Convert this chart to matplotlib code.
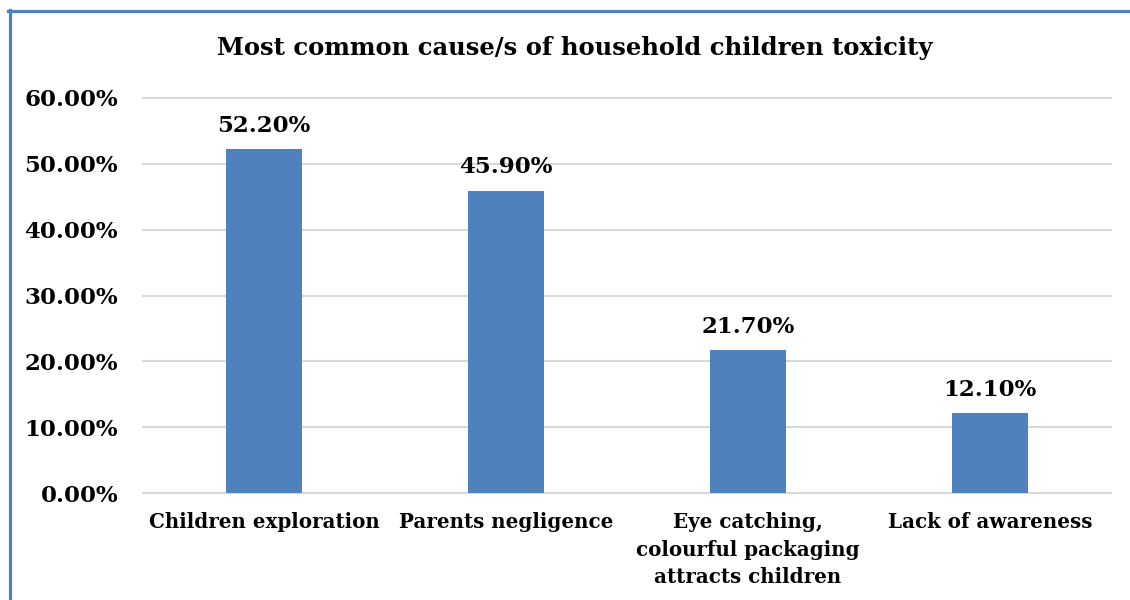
import matplotlib.pyplot as plt
from matplotlib.lines import Line2D
from matplotlib.ticker import FuncFormatter

categories = ['Children exploration', 'Parents negligence',
              'Eye catching,\ncolourful packaging\nattracts children', 'Lack of awareness']
values = [52.2, 45.9, 21.7, 12.1]
yticks = [0, 10, 20, 30, 40, 50, 60]

plt.rcParams['font.family'] = ['DejaVu Serif']
plt.rcParams['font.weight'] = 'bold'

W, H = 1130, 600
fig = plt.figure(figsize=[11.3, 6], dpi=100)
ax = fig.add_axes([143 / W, 1 - 493 / H, (1111 - 143) / W, (493 - 98) / H])

x = range(len(categories))
bars = ax.bar(x, values, width=0.31, color='#4F81BD', zorder=3)
for b, v in zip(bars, values):
    ax.text(b.get_x() + b.get_width() / 2, v + 1.9, f'{v:.2f}%', ha='center', va='bottom',
            fontsize=16.5, fontweight='bold')

ax.set_xlim(-0.5, 3.5)
ax.set_ylim(0, 60)
ax.set_yticks(yticks)
ax.yaxis.set_major_formatter(FuncFormatter(lambda v, p: f'{v:.2f}%'))
ax.set_xticks(list(x))
ax.set_xticklabels(categories, fontsize=14.3, fontweight='bold', linespacing=1.45)
for lab in ax.get_yticklabels():
    lab.set_fontsize(16.5)
    lab.set_fontweight('bold')
ax.grid(axis='y', color='#D9D9D9', linewidth=1.5, zorder=0)
for gl in ax.get_ygridlines():
    gl.set_clip_on(False)
ax.tick_params(axis='y', length=0, pad=18)
ax.tick_params(axis='x', length=0, pad=14)
for s in ax.spines.values():
    s.set_visible(False)

fig.text(575 / W, 1 - 48 / H, 'Most common cause/s of household children toxicity',
         ha='center', va='center', fontsize=17.5, fontweight='bold')

# blue frame (left and top)
fig.add_artist(Line2D([9.5 / W, 9.5 / W], [0, 1 - 10 / H], color='#4F81BD', linewidth=2.3))
fig.add_artist(Line2D([8 / W, 1], [1 - 11 / H, 1 - 11 / H], color='#4F81BD', linewidth=2.3))

fig.savefig('out.png', dpi=100)
